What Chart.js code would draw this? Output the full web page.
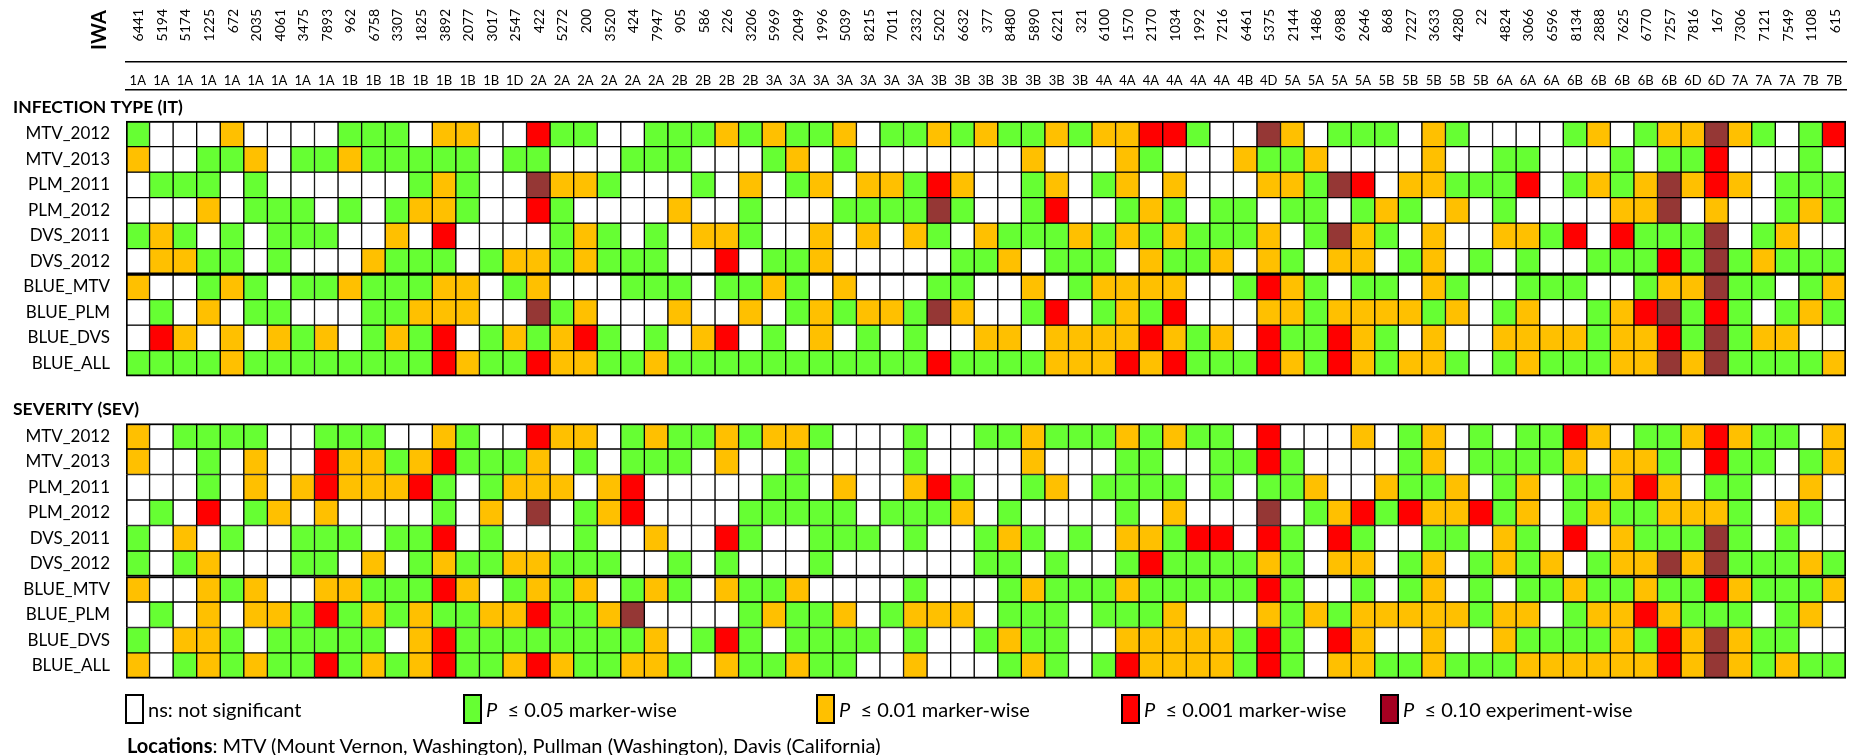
<!DOCTYPE html>
<html lang="en">
<head>
  <meta charset="UTF-8">
  <title>IWA marker significance</title>
  <script src="https://cdn.jsdelivr.net/npm/chart.js"></script>
  <style>
    body {
      margin: 0;
      background: #fff;
      font-family: Lato, "Open Sans", sans-serif;
      color: #000;
    }
    #wrap {
      position: relative;
      width: 1860px;
      height: 755px;
    }
    .item {
      position: absolute;
      top: 694px;
      height: 30px;
      line-height: 30px;
      font-size: 20px;
      white-space: nowrap;
    }
    .box {
      display: inline-block;
      width: 15px;
      height: 26px;
      border: 2px solid #000;
      vertical-align: top;
      margin-right: 4px;
    }
    #locations {
      position: absolute;
      left: 127px;
      top: 733px;
      font-size: 20px;
      line-height: 24px;
      white-space: nowrap;
    }
  </style>
</head>
<body>
<div id="wrap">
  <canvas id="heat" width="1860" height="755"></canvas>
  <div id="legend"></div>
  <div id="locations"><b>Locations</b>: MTV (Mount Vernon, Washington), Pullman (Washington), Davis (California)</div>
</div>

<script>
  // marker ids and their chromosomes
  const iwa = ['6441','5194','5174','1225','672','2035','4061','3475','7893','962','6758','3307','1825','3892','2077','3017','2547',
    '422','5272','200','3520','424','7947','905','586','226','3206','5969','2049','1996','5039','8215','7011','2332',
    '5202','6632','377','8480','5890','6221','321','6100','1570','2170','1034','1992','7216','6461','5375','2144','1486',
    '6988','2646','868','7227','3633','4280','22','4824','3066','6596','8134','2888','7625','6770','7257','7816','167',
    '7306','7121','7549','1108','615'];
  const chrom = ['1A','1A','1A','1A','1A','1A','1A','1A','1A','1B','1B','1B','1B','1B','1B','1B','1D',
    '2A','2A','2A','2A','2A','2A','2B','2B','2B','2B','3A','3A','3A','3A','3A','3A','3A',
    '3B','3B','3B','3B','3B','3B','3B','4A','4A','4A','4A','4A','4A','4B','4D','5A','5A',
    '5A','5A','5B','5B','5B','5B','5B','6A','6A','6A','6B','6B','6B','6B','6B','6D','6D',
    '7A','7A','7A','7B','7B'];

  const rowNames = ['MTV_2012','MTV_2013','PLM_2011','PLM_2012','DVS_2011','DVS_2012','BLUE_MTV','BLUE_PLM','BLUE_DVS','BLUE_ALL'];

  // 0 = ns, 1 = P<=0.05, 2 = P<=0.01, 3 = P<=0.001, 4 = P<=0.10 experiment-wise
  const itValues = [
    [1,0,0,0,2,0,0,0,0,1,1,1,0,2,2,0,0,3,1,1,0,0,1,1,1,2,1,2,1,1,2,0,1,1,2,1,2,1,1,2,1,2,2,3,3,1,0,0,4,2,0,1,1,1,0,2,1,0,0,0,0,1,2,0,1,2,2,4,2,1,0,1,3],
    [2,0,0,1,1,2,0,1,1,2,1,1,1,1,1,0,1,1,0,0,0,1,1,1,0,0,0,1,2,0,1,0,0,0,0,0,0,0,2,0,0,0,2,1,0,0,0,2,1,1,2,0,0,0,0,2,0,0,1,1,0,0,0,1,0,1,1,3,0,0,0,1,0],
    [0,1,1,1,0,1,0,0,0,0,0,0,1,2,1,0,0,4,2,2,1,0,0,0,1,0,2,0,1,2,0,2,2,1,3,2,0,0,1,2,0,1,2,0,2,0,0,0,2,2,1,4,3,0,2,2,1,1,1,3,0,1,2,1,2,4,2,3,2,0,1,1,1],
    [0,0,0,2,0,1,1,1,0,1,0,1,2,2,1,0,0,3,1,0,0,0,0,2,0,0,1,0,0,0,1,1,1,1,4,1,0,0,1,3,0,0,1,2,1,0,1,1,0,1,1,0,1,2,1,0,2,0,1,0,0,0,0,2,2,4,0,2,0,0,1,2,1],
    [1,2,1,0,1,0,1,1,1,0,0,2,0,3,0,0,0,0,1,2,1,0,1,0,2,2,1,0,0,2,0,2,0,2,1,0,2,1,1,1,2,1,2,1,2,1,1,1,2,0,1,4,2,1,0,2,0,0,2,2,1,3,0,3,1,1,1,4,0,1,2,0,0],
    [0,2,2,1,1,0,1,0,0,0,2,1,1,1,0,1,2,2,1,2,1,1,1,0,0,3,0,1,1,2,0,0,0,0,0,1,1,2,0,1,1,1,0,2,1,1,2,0,2,1,0,2,2,0,1,2,0,1,0,1,0,0,1,1,1,3,1,4,1,2,1,1,1],
    [2,0,0,1,2,1,0,1,1,2,1,1,1,2,2,0,1,2,0,0,0,1,1,1,0,1,1,2,1,0,2,0,0,0,1,1,0,0,2,0,1,2,2,2,2,0,0,1,3,2,1,0,1,1,0,2,1,0,0,1,1,1,0,0,1,2,2,4,1,1,0,1,2],
    [0,1,0,2,0,1,1,0,0,0,1,1,2,2,2,0,0,4,1,2,0,0,0,2,0,0,2,0,1,2,1,2,2,1,4,2,0,0,1,3,0,1,2,1,3,0,0,0,2,2,1,2,2,2,2,1,2,0,1,2,0,0,1,2,3,4,1,3,1,0,1,2,1],
    [0,3,2,0,2,0,2,1,2,0,1,2,1,3,0,1,2,1,2,3,1,0,1,0,2,3,0,1,0,2,0,1,0,1,0,0,2,2,0,2,2,2,2,3,2,1,2,0,3,1,1,3,2,1,0,2,0,0,2,2,2,2,1,2,2,3,1,4,1,2,2,0,0],
    [1,1,1,1,2,1,1,1,1,1,1,1,1,3,2,1,1,3,2,2,1,1,2,1,1,1,1,1,1,1,1,1,1,1,3,1,1,1,1,2,2,2,3,2,3,1,1,1,3,2,1,3,2,1,2,2,1,0,1,2,1,1,1,2,2,4,2,4,1,1,1,1,2]
  ];
  const sevValues = [
    [2,0,1,1,1,1,0,0,1,1,1,0,0,2,1,0,0,3,2,2,0,1,2,1,1,2,1,2,2,1,0,0,0,1,0,0,1,1,2,1,1,1,2,1,2,1,1,0,3,0,0,0,2,0,1,2,0,1,0,1,1,3,2,0,1,1,2,3,2,1,1,0,2],
    [2,0,0,1,0,2,0,0,3,2,2,1,2,3,1,1,1,2,0,1,0,1,1,1,0,2,0,0,1,0,0,0,0,1,0,0,0,0,2,0,0,0,1,1,0,0,1,1,3,1,0,0,0,0,1,2,0,1,1,1,1,2,0,2,2,1,0,3,1,1,0,1,2],
    [0,0,0,1,0,2,0,2,3,2,2,2,3,1,0,1,2,2,2,0,2,3,0,0,0,0,0,1,1,0,2,0,0,2,3,1,0,0,1,2,0,1,1,1,1,0,1,0,1,1,2,0,0,2,1,1,2,0,1,2,0,1,1,2,3,2,0,1,1,0,0,2,0],
    [0,1,0,3,0,1,2,0,2,0,0,0,0,1,0,2,0,4,0,1,2,3,0,0,0,0,1,1,1,1,1,0,1,1,1,2,0,1,0,0,0,0,1,0,2,0,0,0,4,0,1,2,3,1,3,2,2,3,1,2,0,1,2,1,1,2,2,2,1,0,2,1,0],
    [1,0,2,0,1,0,0,1,1,1,0,1,1,3,0,1,0,0,0,1,0,0,2,0,0,3,1,0,0,1,1,1,0,1,0,0,1,2,1,0,1,0,2,2,1,3,3,0,3,1,0,3,1,0,0,1,1,0,2,1,0,3,0,2,1,1,1,4,1,0,1,0,0],
    [1,0,1,2,0,0,0,1,1,0,2,0,1,2,1,1,2,2,1,1,1,0,0,1,0,1,0,0,0,1,0,0,0,0,0,0,1,1,0,1,0,0,1,3,1,1,1,1,2,1,0,2,2,0,1,2,0,1,2,1,2,0,1,2,2,4,2,4,1,1,1,2,1],
    [2,0,0,2,1,2,0,0,2,2,1,1,1,3,2,0,1,2,1,2,0,1,2,1,0,2,1,1,2,0,0,0,0,1,0,0,0,1,2,1,1,1,2,1,1,1,1,1,3,1,0,0,1,0,1,2,0,1,0,1,1,2,1,1,2,1,1,3,2,1,1,1,2],
    [0,1,0,2,0,2,2,1,3,1,2,1,2,1,1,2,2,3,1,1,2,4,0,0,0,0,1,2,1,1,2,0,1,2,2,2,0,1,1,1,0,1,1,1,2,0,0,0,2,1,2,1,2,2,2,2,2,1,2,2,0,1,2,2,3,2,1,1,1,0,1,2,0],
    [1,0,2,2,1,0,1,1,1,1,1,0,2,3,1,1,1,1,1,1,1,1,2,0,1,3,1,0,1,1,1,1,0,1,0,0,1,2,1,1,0,0,2,2,2,2,2,1,3,1,0,3,2,0,0,2,0,0,2,1,1,1,1,2,1,3,2,4,2,1,1,0,0],
    [2,0,1,2,1,2,1,1,3,1,2,1,2,3,1,1,2,3,2,1,1,2,2,1,0,2,1,1,2,1,1,0,0,2,0,0,0,1,2,1,0,1,3,2,2,2,2,1,3,1,0,2,2,1,1,2,1,1,1,2,2,2,2,2,2,3,2,4,2,1,2,1,1]
  ];

  const cellColors = ['#ffffff', '#66ff33', '#ffc000', '#ff0000', '#953735'];
  const legendColors = ['#ffffff', '#66ff33', '#ffc000', '#ff0000', '#a50021'];
  const legendTexts = ['ns: not significant', '<i>P</i>&nbsp; ≤ 0.05 marker-wise', '<i>P</i>&nbsp; ≤ 0.01 marker-wise',
    '<i>P</i>&nbsp; ≤ 0.001 marker-wise', '<i>P</i>&nbsp; ≤ 0.10 experiment-wise'];
  const legendLeft = [125, 463, 816, 1121, 1380];

  const sections = ['INFECTION TYPE (IT)', 'SEVERITY (SEV)'];
  const SEV_START = 11.86;

  [...itValues, ...sevValues].forEach((row, r) => {
    if (row.length !== iwa.length) throw new Error('row ' + r + ' has ' + row.length + ' values');
  });

  function rowDatasets(values, start) {
    return values.map((row, r) => ({
      label: rowNames[r],
      data: row.map(() => [start + r, start + r + 1]),
      backgroundColor: row.map(v => cellColors[v]),
      borderColor: '#000',
      borderWidth: ctx => ({
        top: (r === 0 || r === 6) ? 2 : 1,
        bottom: (r === 5 || r === 9) ? 2 : 1,
        left: ctx.dataIndex === 0 ? 2 : 1,
        right: ctx.dataIndex === iwa.length - 1 ? 2 : 1
      }),
      borderSkipped: false,
      grouped: false,
      categoryPercentage: 1,
      barPercentage: 1
    }));
  }

  const rowCenters = [];
  const rowLabels = [];
  rowNames.forEach((n, r) => { rowCenters.push(r + 0.5); rowLabels.push(n); });
  rowNames.forEach((n, r) => { rowCenters.push(SEV_START + r + 0.5); rowLabels.push(n); });

  const textPlugin = {
    id: 'extraText',
    afterDraw(chart) {
      const { ctx } = chart;
      const x = chart.scales.x;
      const y = chart.scales.y;
      ctx.save();
      ctx.fillStyle = '#000';

      // IWA numbers, rotated, top aligned
      ctx.font = '14px Lato';
      ctx.textAlign = 'right';
      ctx.textBaseline = 'middle';
      iwa.forEach((id, i) => {
        ctx.save();
        ctx.translate(x.getPixelForValue(i) + 1, 9);
        ctx.rotate(-Math.PI / 2);
        ctx.fillText(id, 0, 0);
        ctx.restore();
      });

      ctx.font = 'bold 20px Lato';
      ctx.save();
      ctx.translate(100, 10);
      ctx.rotate(-Math.PI / 2);
      ctx.fillText('IWA', 0, 0);
      ctx.restore();

      ctx.font = 'bold 17.5px Lato';
      ctx.textAlign = 'left';
      ctx.fillText(sections[0], 13, y.getPixelForValue(-0.55));
      ctx.fillText(sections[1], 13, y.getPixelForValue(SEV_START - 0.55));
      ctx.restore();
    }
  };

  Chart.defaults.font.family = 'Lato';
  Chart.defaults.color = '#000';

  new Chart(document.getElementById('heat'), {
    type: 'bar',
    data: {
      labels: iwa,
      datasets: [...rowDatasets(itValues, 0), ...rowDatasets(sevValues, SEV_START)]
    },
    options: {
      responsive: false,
      animation: false,
      events: [],
      devicePixelRatio: 1,
      layout: { padding: { left: 0, right: 14, top: 0, bottom: 74 } },
      plugins: {
        legend: { display: false },
        tooltip: { enabled: false }
      },
      scales: {
        x: {
          type: 'category',
          position: 'top',
          weight: 0,
          offset: true,
          ticks: {
            autoSkip: false,
            maxRotation: 0,
            minRotation: 0,
            padding: 1,
            font: { size: 13 },
            callback: (v, i) => chrom[i]
          },
          grid: { display: false, drawTicks: false },
          border: { display: true, color: '#000', width: 1.5 },
          afterFit: s => { s.height = 28; }
        },
        x2: {
          type: 'category',
          position: 'top',
          weight: 1,
          labels: iwa,
          offset: true,
          ticks: { display: false },
          grid: { display: false, drawTicks: false },
          border: { display: true, color: '#000', width: 1.5 },
          afterFit: s => { s.height = 62; }
        },
        y: {
          type: 'linear',
          reverse: true,
          min: -1.22,
          max: 21.96,
          afterBuildTicks: s => { s.ticks = rowCenters.map(v => ({ value: v })); },
          ticks: {
            autoSkip: false,
            padding: 16,
            font: { size: 17 },
            callback: (v, i) => rowLabels[i]
          },
          grid: { display: false, drawTicks: false },
          border: { display: false },
          afterFit: s => { s.width = 126; }
        }
      }
    },
    plugins: [textPlugin]
  });

  const legend = document.getElementById('legend');
  legendTexts.forEach((t, i) => {
    const d = document.createElement('div');
    d.className = 'item';
    d.style.left = legendLeft[i] + 'px';
    d.innerHTML = '<span class="box" style="background:' + legendColors[i] + '"></span>' + t;
    legend.appendChild(d);
  });
</script>
</body>
</html>
